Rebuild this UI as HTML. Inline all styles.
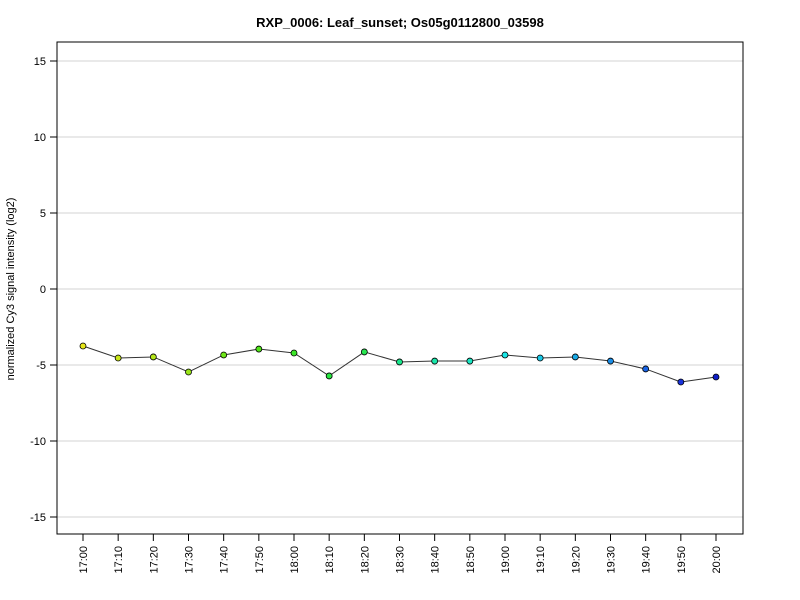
<!DOCTYPE html>
<html><head><meta charset="utf-8"><style>body{margin:0;background:#fff}svg{display:block}</style></head>
<body>
<svg id="chart" width="800" height="600" xmlns="http://www.w3.org/2000/svg" font-family="Liberation Sans, Arial, sans-serif">
<text x="400" y="27" text-anchor="middle" font-size="13" font-weight="bold">RXP_0006: Leaf_sunset; Os05g0112800_03598</text>
<g id="grid"></g>
<g id="yaxis"></g>
<g id="xaxis"></g>
<g id="series"></g>
<rect x="57" y="42" width="686" height="492" fill="none" stroke="#000" stroke-width="1"/>
<text transform="translate(14,289) rotate(-90)" text-anchor="middle" font-size="11">normalized Cy3 signal intensity (log2)</text>
</svg>
<script>
const categories = ["17:00","17:10","17:20","17:30","17:40","17:50","18:00","18:10","18:20","18:30","18:40","18:50","19:00","19:10","19:20","19:30","19:40","19:50","20:00"];
const values = [-3.75,-4.54,-4.47,-5.46,-4.34,-3.95,-4.21,-5.72,-4.14,-4.80,-4.74,-4.74,-4.34,-4.54,-4.47,-4.74,-5.26,-6.12,-5.79];
const yTicks = [-15,-10,-5,0,5,10,15];
const colors = ["#e6e619","#c8e619","#b4e619","#9be619","#6ee619","#50e619","#3ce628","#28e640","#28e650","#19e68c","#19e6aa","#19e6c3","#19e6e6","#19c8e6","#19aae6","#198ce6","#1964e6","#1932dc","#0f1ec8"];
const NS="http://www.w3.org/2000/svg";
function y(v){return 289-v*15.2;}
function x(i){return 83+i*(716-83)/(categories.length-1);}
function mk(tag,attrs,parent){const e=document.createElementNS(NS,tag);for(const k in attrs)e.setAttribute(k,attrs[k]);parent.appendChild(e);return e;}
const grid=document.getElementById('grid'),ya=document.getElementById('yaxis'),xa=document.getElementById('xaxis'),ser=document.getElementById('series');
yTicks.forEach(t=>{
  const g=mk('line',{x1:57,x2:743,y1:y(t),y2:y(t),stroke:'#d3d3d3','stroke-width':1},grid);
  
  
  const tk=mk('line',{x1:50,x2:57,y1:y(t),y2:y(t),stroke:'#000'},ya);
  
  
  const tx=mk('text',{x:46,y:y(t)+4,'text-anchor':'end','font-size':11},ya);
  tx.textContent=t;
  
  
});
categories.forEach((c,i)=>{
  const tk=mk('line',{x1:x(i),x2:x(i),y1:534,y2:541,stroke:'#000'},xa);
  
  
  const tx=mk('text',{transform:`translate(${x(i)+4},546) rotate(-90)`,'text-anchor':'end','font-size':11},xa);
  tx.textContent=c;
  
  
});
const pl=mk('polyline',{points:values.map((v,i)=>x(i)+','+y(v)).join(' '),fill:'none',stroke:'#333','stroke-width':1},ser);


values.forEach((v,i)=>{
  const c=mk('circle',{cx:x(i),cy:y(v),r:3,fill:colors[i],stroke:'#000','stroke-width':0.8},ser);
  
  
});
</script>
</body></html>
